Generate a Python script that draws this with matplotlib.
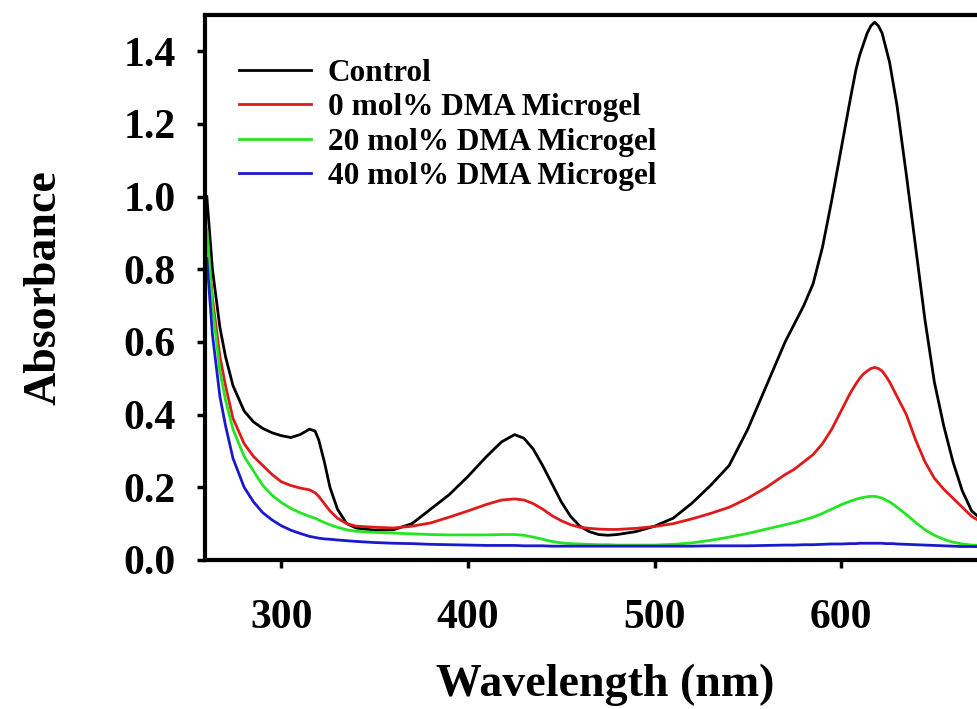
#!/usr/bin/env python3
# -*- coding: utf-8 -*-

import numpy as np
import matplotlib
matplotlib.use('Agg')
import matplotlib.pyplot as plt

# wavelength grid (nm) and absorbance
wavelength = [260, 263, 267, 270, 274, 280, 285, 290, 295, 300,
              305, 310, 315, 318, 320, 323, 326, 330, 335, 340,
              350, 360, 370, 380, 390, 400, 410, 418, 425, 430,
              435, 440, 445, 450, 455, 460, 465, 470, 475, 480,
              490, 500, 510, 520, 530, 540, 550, 560, 570, 575,
              580, 585, 590, 595, 600, 605, 608, 610, 612, 614,
              616, 618, 620, 622, 624, 626, 628, 630, 635, 640,
              645, 650, 655, 660, 665, 670, 680, 690, 700]

control = [1.00, 0.80, 0.64, 0.56, 0.48, 0.41, 0.38, 0.362, 0.35, 0.342,
           0.337, 0.345, 0.36, 0.355, 0.33, 0.27, 0.20, 0.14, 0.10, 0.088,
           0.082, 0.083, 0.10, 0.14, 0.18, 0.23, 0.285, 0.325, 0.345, 0.335,
           0.305, 0.26, 0.21, 0.16, 0.12, 0.093, 0.078, 0.07, 0.068, 0.07,
           0.078, 0.093, 0.115, 0.156, 0.205, 0.26, 0.36, 0.48, 0.60, 0.65,
           0.70, 0.76, 0.86, 0.99, 1.13, 1.27, 1.35, 1.39, 1.42, 1.45,
           1.47, 1.48, 1.47, 1.45, 1.41, 1.37, 1.31, 1.25, 1.06, 0.86,
           0.66, 0.49, 0.37, 0.27, 0.19, 0.135, 0.09, 0.065, 0.055]

dma0 = [0.91, 0.72, 0.56, 0.48, 0.39, 0.32, 0.285, 0.26, 0.235, 0.215,
        0.205, 0.198, 0.193, 0.185, 0.175, 0.155, 0.135, 0.115, 0.10, 0.093,
        0.09, 0.088, 0.093, 0.102, 0.118, 0.135, 0.153, 0.165, 0.168, 0.165,
        0.155, 0.14, 0.122, 0.108, 0.097, 0.09, 0.087, 0.085, 0.084, 0.084,
        0.087, 0.092, 0.10, 0.113, 0.128, 0.145, 0.17, 0.20, 0.235, 0.25,
        0.27, 0.29, 0.32, 0.36, 0.41, 0.46, 0.485, 0.50, 0.512, 0.52,
        0.527, 0.53, 0.527, 0.52, 0.506, 0.49, 0.47, 0.45, 0.40, 0.33,
        0.27, 0.225, 0.195, 0.17, 0.145, 0.12, 0.09, 0.07, 0.06]

dma20 = [0.91, 0.70, 0.52, 0.44, 0.36, 0.285, 0.245, 0.205, 0.178, 0.158,
         0.142, 0.13, 0.12, 0.115, 0.11, 0.103, 0.097, 0.09, 0.083, 0.079,
         0.076, 0.074, 0.072, 0.07, 0.069, 0.069, 0.069, 0.07, 0.07, 0.068,
         0.063, 0.057, 0.051, 0.047, 0.045, 0.044, 0.043, 0.042, 0.042, 0.041,
         0.041, 0.041, 0.043, 0.047, 0.054, 0.063, 0.073, 0.085, 0.097, 0.103,
         0.11, 0.118, 0.128, 0.14, 0.152, 0.162, 0.167, 0.17, 0.172, 0.174,
         0.175, 0.175, 0.173, 0.17, 0.165, 0.16, 0.153, 0.145, 0.125, 0.103,
         0.083, 0.068, 0.057, 0.049, 0.044, 0.041, 0.039, 0.038, 0.037]

dma40 = [0.83, 0.62, 0.45, 0.37, 0.28, 0.20, 0.16, 0.13, 0.11, 0.094,
         0.082, 0.073, 0.065, 0.062, 0.06, 0.058, 0.057, 0.055, 0.053, 0.051,
         0.048, 0.046, 0.045, 0.043, 0.042, 0.041, 0.040, 0.040, 0.040, 0.039,
         0.039, 0.039, 0.038, 0.038, 0.038, 0.038, 0.038, 0.038, 0.038, 0.038,
         0.038, 0.038, 0.038, 0.038, 0.039, 0.039, 0.039, 0.040, 0.041, 0.041,
         0.042, 0.042, 0.043, 0.044, 0.044, 0.045, 0.045, 0.046, 0.046, 0.046,
         0.046, 0.046, 0.046, 0.046, 0.045, 0.045, 0.045, 0.044, 0.043, 0.042,
         0.041, 0.040, 0.039, 0.038, 0.037, 0.037, 0.036, 0.036, 0.036]

labels = ['Control', '0 mol% DMA Microgel', '20 mol% DMA Microgel', '40 mol% DMA Microgel']
colors = ['black', '#e01a1a', '#22e622', '#1a1acc']

x_ticks = [300, 400, 500, 600]
y_ticks = [0.0, 0.2, 0.4, 0.6, 0.8, 1.0, 1.2, 1.4]

plt.rcParams['font.family'] = 'Liberation Serif'
plt.rcParams['font.weight'] = 'bold'

fig = plt.figure(figsize=(9.77, 7.09), dpi=100)
ax = fig.add_axes([0.2098, 0.2102, 0.842, 0.7687])

for y, lab, c in zip([control, dma0, dma20, dma40], labels, colors):
    ax.plot(wavelength, y, color=c, lw=2.0, label=lab)

ax.set_xlim(259, 700)
ax.set_ylim(0, 1.5)
ax.set_xticks(x_ticks)
ax.set_yticks(y_ticks)
ax.set_yticklabels(['%.1f' % v for v in y_ticks])

for s in ['top', 'bottom', 'left', 'right']:
    ax.spines[s].set_linewidth(3)
ax.tick_params(direction='out', length=6, width=2.5, labelsize=30)
ax.tick_params(axis='x', pad=22)
ax.tick_params(axis='y', pad=15)

ax.set_xlabel('Wavelength (nm)', fontsize=33, fontweight='bold')
ax.set_ylabel('Absorbance', fontsize=33, fontweight='bold')
ax.xaxis.set_label_coords(0.486, -0.19)
ax.yaxis.set_label_coords(-0.17, 0.5)

leg = ax.legend(loc='upper left', bbox_to_anchor=(0.041, 0.919), frameon=False,
                fontsize=22.5, handlelength=2.3, handletextpad=0.55,
                labelspacing=0.17, borderpad=0, borderaxespad=0)
for t in leg.get_texts():
    t.set_fontweight('bold')

plt.savefig('out.png', dpi=100)
